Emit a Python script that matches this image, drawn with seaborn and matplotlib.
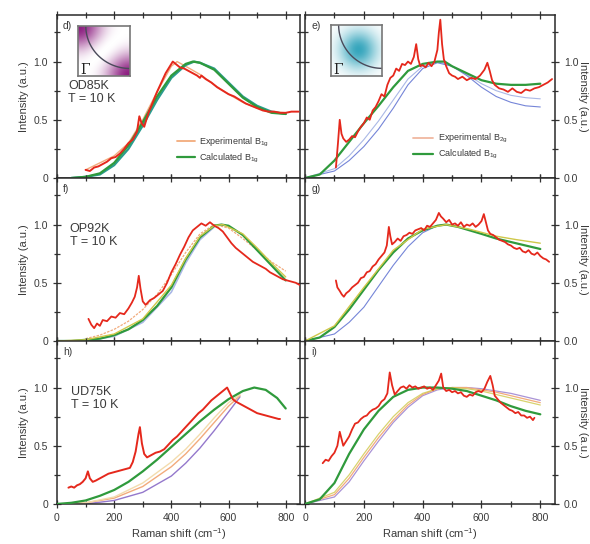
import matplotlib
matplotlib.use("Agg")
import matplotlib.pyplot as plt
import numpy as np
import seaborn as sns
from matplotlib.lines import Line2D
from matplotlib.ticker import MultipleLocator, FixedLocator, FixedFormatter

# ---- data: (Raman shift cm-1, intensity a.u.) ----
d_exp = [(100, 0.07), (115, 0.06), (130, 0.09), (145, 0.10), (160, 0.12), (175, 0.14), (190, 0.17),
         (205, 0.18), (220, 0.21), (235, 0.25), (250, 0.30), (265, 0.33), (280, 0.40), (288, 0.53),
         (296, 0.47), (305, 0.44), (320, 0.56), (335, 0.65), (350, 0.74), (365, 0.82), (380, 0.90),
         (395, 0.96), (405, 1.00), (415, 0.98), (430, 0.95), (445, 0.94), (460, 0.92), (475, 0.90),
         (490, 0.88), (500, 0.86), (505, 0.88), (520, 0.85), (540, 0.82), (560, 0.78), (580, 0.75),
         (600, 0.72), (620, 0.70), (640, 0.67), (660, 0.64), (680, 0.62), (700, 0.60), (720, 0.58),
         (740, 0.57), (760, 0.57), (780, 0.56), (800, 0.56), (820, 0.57), (845, 0.57)]
d_calc = [(50, 0.0), (100, 0.01), (150, 0.04), (200, 0.13), (250, 0.28), (300, 0.48), (350, 0.70),
          (400, 0.88), (450, 0.98), (475, 1.0), (500, 0.99), (550, 0.93), (600, 0.81), (650, 0.69),
          (700, 0.61), (750, 0.56), (800, 0.55)]
d_teal = [(50, 0.0), (100, 0.01), (150, 0.03), (200, 0.11), (250, 0.25), (300, 0.45), (350, 0.67),
          (400, 0.86), (450, 0.97), (480, 1.0), (500, 0.99), (550, 0.94), (600, 0.82), (650, 0.70),
          (700, 0.62), (750, 0.57), (800, 0.55)]
d_orange = [(100, 0.07), (200, 0.19), (250, 0.30), (300, 0.50), (350, 0.74), (400, 0.96), (420, 1.0),
            (450, 0.96), (500, 0.89), (550, 0.80), (600, 0.72), (650, 0.65), (700, 0.60), (750, 0.57),
            (800, 0.56)]

e_exp = [(105, 0.09), (112, 0.30), (118, 0.50), (124, 0.38), (130, 0.34), (140, 0.31), (150, 0.33),
         (160, 0.36), (170, 0.35), (180, 0.40), (190, 0.44), (200, 0.47), (210, 0.52), (220, 0.50),
         (230, 0.58), (240, 0.61), (250, 0.66), (260, 0.72), (270, 0.70), (280, 0.80), (290, 0.86),
         (300, 0.88), (310, 0.94), (320, 0.92), (330, 0.98), (340, 0.97), (350, 1.00), (360, 0.98),
         (370, 1.04), (378, 1.15), (385, 1.02), (392, 0.96), (400, 0.97), (410, 0.95), (420, 0.99),
         (430, 0.96), (440, 1.00), (450, 1.10), (455, 1.25), (460, 1.36), (466, 1.15), (472, 1.02),
         (480, 0.96), (490, 0.90), (500, 0.88), (510, 0.87), (520, 0.85), (535, 0.87), (550, 0.84),
         (565, 0.86), (580, 0.85), (595, 0.88), (610, 0.93), (620, 0.99), (628, 0.92), (636, 0.84),
         (645, 0.80), (660, 0.77), (675, 0.76), (690, 0.74), (705, 0.77), (720, 0.74), (735, 0.73),
         (750, 0.76), (765, 0.75), (780, 0.77), (795, 0.78), (810, 0.80), (825, 0.82), (840, 0.85)]
e_calc = [(0, 0.0), (50, 0.03), (100, 0.15), (150, 0.31), (200, 0.47), (250, 0.62), (300, 0.78),
          (350, 0.92), (400, 0.98), (450, 1.0), (475, 1.0), (500, 0.96), (550, 0.90), (600, 0.84),
          (650, 0.81), (700, 0.80), (750, 0.80), (800, 0.81)]
e_blue = [(0, 0.0), (100, 0.06), (150, 0.15), (200, 0.27), (250, 0.42), (300, 0.60), (350, 0.80),
          (400, 0.94), (450, 0.99), (500, 0.96), (550, 0.88), (600, 0.78), (650, 0.70), (700, 0.65),
          (750, 0.62), (800, 0.61)]
e_blue2 = [(0, 0.0), (100, 0.08), (150, 0.19), (200, 0.33), (250, 0.49), (300, 0.67), (350, 0.85),
           (400, 0.96), (450, 1.0), (500, 0.96), (550, 0.89), (600, 0.81), (650, 0.75), (700, 0.71),
           (750, 0.69), (800, 0.68)]

f_exp = [(110, 0.19), (120, 0.14), (130, 0.11), (140, 0.15), (150, 0.13), (160, 0.18), (175, 0.17),
         (190, 0.21), (205, 0.20), (220, 0.24), (235, 0.23), (250, 0.28), (262, 0.33), (272, 0.38),
         (280, 0.46), (286, 0.56), (292, 0.45), (300, 0.34), (310, 0.31), (325, 0.35), (340, 0.37),
         (355, 0.40), (370, 0.43), (385, 0.50), (400, 0.59), (415, 0.66), (430, 0.74), (445, 0.81),
         (460, 0.89), (475, 0.95), (490, 0.98), (505, 1.01), (520, 0.99), (535, 1.02), (550, 0.99),
         (565, 0.97), (580, 0.94), (595, 0.89), (610, 0.84), (625, 0.80), (640, 0.77), (655, 0.74),
         (670, 0.71), (685, 0.68), (700, 0.66), (715, 0.64), (730, 0.62), (745, 0.59), (760, 0.57),
         (775, 0.55), (790, 0.53), (805, 0.52), (820, 0.51), (835, 0.50), (850, 0.48)]
f_calc = [(0, 0.0), (50, 0.0), (100, 0.01), (150, 0.02), (200, 0.05), (250, 0.10), (300, 0.18),
          (350, 0.30), (400, 0.46), (450, 0.70), (500, 0.89), (550, 0.99), (575, 1.0), (600, 0.99),
          (650, 0.91), (700, 0.78), (750, 0.65), (800, 0.52)]
f_yellow = [(0, 0.0), (100, 0.01), (200, 0.06), (300, 0.19), (400, 0.48), (450, 0.71), (500, 0.90),
            (550, 0.99), (580, 1.0), (650, 0.92), (700, 0.80), (750, 0.67), (800, 0.55)]
f_orange = [(100, 0.02), (150, 0.05), (200, 0.10), (250, 0.17), (300, 0.27), (350, 0.40), (400, 0.57),
            (450, 0.76), (500, 0.92), (550, 1.0), (600, 0.97), (650, 0.88), (700, 0.78), (750, 0.68),
            (800, 0.60)]
f_blue = [(0, 0.0), (100, 0.0), (200, 0.04), (300, 0.16), (400, 0.42), (450, 0.67), (500, 0.87),
          (550, 0.98)]

g_exp = [(105, 0.52), (110, 0.46), (118, 0.43), (125, 0.40), (132, 0.38), (140, 0.41), (150, 0.43),
         (160, 0.46), (170, 0.48), (180, 0.50), (190, 0.54), (200, 0.55), (210, 0.59), (220, 0.60),
         (230, 0.64), (240, 0.66), (250, 0.70), (260, 0.73), (270, 0.76), (278, 0.82), (285, 0.98),
         (290, 0.90), (296, 0.83), (305, 0.85), (315, 0.88), (325, 0.86), (335, 0.90), (345, 0.91),
         (355, 0.93), (365, 0.92), (375, 0.95), (385, 0.96), (395, 0.97), (405, 0.95), (415, 0.99),
         (425, 0.98), (435, 1.01), (445, 1.04), (455, 1.10), (462, 1.07), (470, 1.05), (480, 1.02),
         (490, 1.04), (500, 1.00), (510, 1.01), (520, 0.99), (530, 1.02), (540, 0.98), (550, 1.00),
         (560, 0.99), (570, 1.01), (580, 0.98), (590, 1.00), (600, 1.03), (608, 1.09), (615, 1.02),
         (622, 0.95), (630, 0.92), (640, 0.91), (650, 0.89), (660, 0.87), (670, 0.86), (680, 0.85),
         (690, 0.83), (700, 0.82), (710, 0.80), (720, 0.79), (730, 0.80), (740, 0.77), (750, 0.76),
         (760, 0.78), (770, 0.75), (780, 0.74), (790, 0.76), (800, 0.73), (810, 0.71), (820, 0.70),
         (830, 0.68)]
g_calc = [(0, 0.0), (50, 0.03), (100, 0.12), (150, 0.27), (200, 0.44), (250, 0.61), (300, 0.76),
          (350, 0.88), (400, 0.95), (450, 0.99), (480, 1.0), (520, 0.98), (560, 0.95), (600, 0.92),
          (650, 0.88), (700, 0.85), (750, 0.82), (800, 0.79)]
g_yellow = [(0, 0.0), (100, 0.13), (200, 0.46), (300, 0.78), (400, 0.96), (480, 1.0), (560, 0.96),
            (650, 0.90), (720, 0.87), (800, 0.84)]
g_blue = [(0, 0.0), (100, 0.06), (150, 0.16), (200, 0.29), (250, 0.47), (300, 0.65), (350, 0.81),
          (400, 0.93), (450, 0.99), (480, 1.0)]

h_exp = [(40, 0.14), (50, 0.15), (60, 0.14), (70, 0.16), (80, 0.17), (90, 0.19), (100, 0.22),
         (108, 0.28), (115, 0.22), (125, 0.19), (135, 0.20), (150, 0.22), (165, 0.24), (180, 0.26),
         (195, 0.27), (210, 0.28), (225, 0.29), (240, 0.30), (255, 0.31), (265, 0.36), (275, 0.45),
         (285, 0.60), (290, 0.66), (297, 0.52), (305, 0.43), (315, 0.40), (330, 0.42), (345, 0.44),
         (360, 0.45), (375, 0.47), (390, 0.51), (405, 0.55), (420, 0.58), (435, 0.62), (450, 0.66),
         (465, 0.70), (480, 0.74), (495, 0.78), (510, 0.81), (525, 0.85), (540, 0.89), (555, 0.92),
         (570, 0.95), (585, 0.98), (595, 1.00), (605, 0.95), (615, 0.90), (625, 0.88), (640, 0.86),
         (655, 0.84), (670, 0.82), (685, 0.80), (700, 0.78), (715, 0.77), (730, 0.76), (745, 0.75),
         (760, 0.74), (775, 0.73), (780, 0.73)]
h_calc = [(0, 0.0), (50, 0.01), (100, 0.03), (150, 0.07), (200, 0.12), (250, 0.19), (300, 0.28),
          (350, 0.38), (400, 0.49), (450, 0.60), (500, 0.71), (550, 0.81), (600, 0.90), (650, 0.97),
          (690, 1.0), (730, 0.98), (770, 0.91), (800, 0.82)]
h_orange = [(0, 0.0), (100, 0.01), (200, 0.05), (300, 0.15), (400, 0.32), (450, 0.43), (500, 0.56),
            (550, 0.70), (600, 0.84), (640, 0.93)]
h_purple = [(0, 0.0), (100, 0.0), (200, 0.03), (300, 0.10), (400, 0.24), (450, 0.35), (500, 0.48),
            (550, 0.63), (600, 0.79), (640, 0.92)]
h_yellow = [(0, 0.0), (100, 0.01), (200, 0.06), (300, 0.18), (400, 0.36), (450, 0.47), (500, 0.60),
            (550, 0.74), (600, 0.87), (640, 0.94)]

i_exp = [(60, 0.35), (70, 0.38), (80, 0.37), (90, 0.41), (100, 0.44), (110, 0.50), (118, 0.62),
         (124, 0.56), (130, 0.50), (140, 0.54), (150, 0.58), (160, 0.64), (170, 0.69), (180, 0.70),
         (190, 0.73), (200, 0.75), (210, 0.76), (220, 0.79), (230, 0.81), (240, 0.82), (250, 0.84),
         (260, 0.88), (270, 0.90), (280, 0.95), (288, 1.13), (296, 1.02), (305, 0.94), (315, 0.97),
         (325, 1.00), (335, 1.01), (345, 0.99), (355, 1.02), (365, 1.00), (375, 1.01), (385, 0.99),
         (395, 1.00), (405, 1.01), (415, 0.99), (425, 1.00), (435, 0.98), (445, 1.02), (455, 1.06),
         (463, 1.12), (470, 1.00), (480, 0.97), (490, 0.98), (500, 0.96), (510, 0.97), (520, 0.95),
         (530, 0.96), (540, 0.93), (550, 0.92), (560, 0.94), (570, 0.93), (580, 0.96), (590, 0.97),
         (600, 0.96), (610, 0.99), (620, 1.05), (630, 1.10), (638, 1.02), (645, 0.93), (655, 0.90),
         (665, 0.87), (675, 0.85), (685, 0.83), (695, 0.81), (705, 0.80), (715, 0.78), (725, 0.79),
         (735, 0.76), (745, 0.76), (755, 0.74), (765, 0.75), (775, 0.72), (780, 0.74)]
i_calc = [(0, 0.0), (50, 0.04), (100, 0.18), (150, 0.43), (200, 0.64), (250, 0.80), (300, 0.92),
          (350, 0.98), (400, 1.0), (450, 1.0), (500, 0.99), (550, 0.97), (600, 0.93), (650, 0.89),
          (700, 0.84), (750, 0.80), (800, 0.77)]
i_yellow = [(0, 0.0), (100, 0.10), (150, 0.25), (200, 0.43), (250, 0.60), (300, 0.75), (350, 0.87),
            (400, 0.95), (450, 0.99), (500, 1.0), (550, 0.99), (600, 0.97), (650, 0.94), (700, 0.91),
            (750, 0.88), (800, 0.85)]
i_orange = [(0, 0.0), (100, 0.08), (150, 0.22), (200, 0.40), (250, 0.57), (300, 0.72), (350, 0.85),
            (400, 0.94), (450, 0.99), (500, 1.0), (550, 1.0), (600, 0.98), (650, 0.96), (700, 0.93),
            (750, 0.90), (800, 0.87)]
i_purple = [(0, 0.0), (100, 0.06), (150, 0.19), (200, 0.37), (250, 0.54), (300, 0.70), (350, 0.83),
            (400, 0.93), (450, 0.98), (500, 1.0), (550, 1.0), (600, 0.99), (650, 0.97), (700, 0.95),
            (750, 0.92), (800, 0.89)]

panel_letters = ["d)", "e)", "f)", "g)", "h)", "i)"]
sample_names = ["OD85K", "OP92K", "UD75K"]
x_ticks = [0, 200, 400, 600, 800]
y_ticks = [0, 0.5, 1.0]
left_ylabels = ["0", "0.5", "1.0"]
right_ylabels = ["0.0", "0.5", "1.0"]

RED = "#e5281c"
GREEN = "#2f9a3c"
TEAL = "#2a9c90"
BLUE = "#7585d8"
LBLUE = "#aab8e6"
ORANGE = "#f2ab7c"
YELLOW = "#cfc84a"
PURPLE = "#9478cc"
TXT = "#3a3a3a"

sns.set_theme(style="ticks")
plt.rcParams["font.family"] = ["Liberation Sans", "DejaVu Sans"]
plt.rcParams["mathtext.fontset"] = "custom"
plt.rcParams["mathtext.rm"] = "Liberation Sans"
plt.rcParams["mathtext.it"] = "Liberation Sans"


def draw(ax, pts, color, lw=1.0, z=2, ls="-", alpha=1.0):
    xs = [p[0] for p in pts]
    ys = [p[1] for p in pts]
    sns.lineplot(x=xs, y=ys, ax=ax, color=color, linewidth=lw, zorder=z,
                 linestyle=ls, alpha=alpha, sort=False, estimator=None)


fig = plt.figure(figsize=(5.9, 5.44), dpi=100)
top = 0.9724
ph = 0.2996
axes = []
for r in range(3):
    y0 = top - (r + 1) * ph
    axl = fig.add_axes([0.0966, y0, 0.4119, ph])
    axr = fig.add_axes([0.5170, y0, 0.4237, ph])
    axes.append((axl, axr))

# panel d / e
axd, axe = axes[0]
draw(axd, d_orange, ORANGE, 1.0, 2)
draw(axd, d_teal, TEAL, 1.6, 3)
draw(axd, d_calc, GREEN, 1.6, 4)
draw(axd, d_exp, RED, 1.4, 5)
draw(axe, e_blue2, LBLUE, 0.8, 2)
draw(axe, e_blue, BLUE, 0.8, 2)
draw(axe, e_calc, GREEN, 1.6, 4)
draw(axe, e_exp, RED, 1.3, 5)

# panel f / g
axf, axg = axes[1]
draw(axf, f_orange, ORANGE, 0.9, 2, ls=(0, (2, 1)))
draw(axf, f_blue, LBLUE, 1.2, 2)
draw(axf, f_calc, GREEN, 1.6, 3)
draw(axf, f_yellow, YELLOW, 1.0, 4)
draw(axf, f_exp, RED, 1.3, 5)
draw(axg, g_blue, BLUE, 0.8, 2)
draw(axg, g_calc, GREEN, 1.6, 3)
draw(axg, g_yellow, YELLOW, 1.0, 4)
draw(axg, g_exp, RED, 1.3, 5)

# panel h / i
axh, axi = axes[2]
draw(axh, h_purple, PURPLE, 1.0, 2)
draw(axh, h_orange, ORANGE, 1.0, 2)
draw(axh, h_yellow, "#f3dcae", 1.0, 2)
draw(axh, h_calc, GREEN, 1.6, 3)
draw(axh, h_exp, RED, 1.4, 5)
draw(axi, i_purple, PURPLE, 0.9, 2, alpha=0.8)
draw(axi, i_orange, ORANGE, 0.9, 2)
draw(axi, i_yellow, YELLOW, 0.9, 2, alpha=0.8)
draw(axi, i_calc, GREEN, 1.6, 3)
draw(axi, i_exp, RED, 1.3, 5)

for r, (axl, axr) in enumerate(axes):
    for c, ax in enumerate((axl, axr)):
        ax.set_xlim(0, 850)
        ax.set_ylim(0, 1.4)
        ax.set_xlabel("")
        ax.set_ylabel("")
        ax.xaxis.set_major_locator(FixedLocator(x_ticks))
        ax.xaxis.set_minor_locator(MultipleLocator(100))
        ax.yaxis.set_major_locator(FixedLocator(y_ticks))
        ax.yaxis.set_minor_locator(MultipleLocator(0.25))
        ax.tick_params(which="both", direction="inout", top=True, right=True,
                       bottom=True, left=True, colors="#333333", labelsize=7.5,
                       labelcolor=TXT, width=0.9)
        ax.tick_params(which="major", length=6)
        ax.tick_params(which="minor", length=4)
        for sp in ax.spines.values():
            sp.set_linewidth(1.1)
            sp.set_color("#2a2a2a")
        if r < 2:
            ax.tick_params(labelbottom=False)
        else:
            ax.set_xlabel("Raman shift (cm$^{-1}$)", fontsize=8, color=TXT, labelpad=2)
        if c == 0:
            ax.yaxis.set_major_formatter(FixedFormatter(left_ylabels))
            ax.set_ylabel("Intensity (a.u.)", fontsize=8, color=TXT, labelpad=3)
        else:
            ax.yaxis.set_major_formatter(FixedFormatter(right_ylabels))
            ax.tick_params(labelleft=False, labelright=True)
            ax.yaxis.set_label_position("right")
            ax.set_ylabel("Intensity (a.u.)", fontsize=8, color=TXT, rotation=270, labelpad=7)
        ax.text(0.025, 0.965, panel_letters[2 * r + c], transform=ax.transAxes,
                fontsize=7.5, color=TXT, va="top", ha="left")

# sample labels
axd.text(40, 0.84, sample_names[0] + "\nT = 10 K", fontsize=9, color=TXT, va="top", linespacing=1.05)
axf.text(45, 1.01, sample_names[1] + "\nT = 10 K", fontsize=9, color=TXT, va="top", linespacing=1.05)
axh.text(50, 1.01, sample_names[2] + "\nT = 10 K", fontsize=9, color=TXT, va="top", linespacing=1.05)

# legends
leg_d = [Line2D([], [], color=ORANGE, lw=1.3), Line2D([], [], color=GREEN, lw=1.6)]
axd.legend(leg_d, ["Experimental B$_{1g}$", "Calculated B$_{1g}$"], loc="upper left",
           bbox_to_anchor=(0.46, 0.31), frameon=False, fontsize=6.5, handlelength=2.0,
           handletextpad=0.5, labelspacing=0.3, labelcolor=TXT)
leg_e = [Line2D([], [], color="#f0b8a0", lw=1.3), Line2D([], [], color=GREEN, lw=1.6)]
axe.legend(leg_e, ["Experimental B$_{2g}$", "Calculated B$_{1g}$"], loc="upper left",
           bbox_to_anchor=(0.40, 0.33), frameon=False, fontsize=6.5, handlelength=2.2,
           handletextpad=0.5, labelspacing=0.3, labelcolor=TXT)

# Brillouin zone quadrant insets
k = np.linspace(0, np.pi, 120)
kx, ky = np.meshgrid(k, k)
b1g = (np.cos(kx) - np.cos(ky)) ** 2 / 4
b2g = np.exp(-((kx - 1.7) ** 2 + (ky - 1.6) ** 2) / 1.3)
ins_specs = [([0.1322, 0.8603, 0.0881, 0.0919], b1g, ["#ffffff", "#8c1d80"]),
             ([0.5610, 0.8603, 0.0864, 0.0938], b2g, ["#ffffff", "#37a6bd"])]
for pos, img, cols in ins_specs:
    ins = fig.add_axes(pos)
    cmap = matplotlib.colors.LinearSegmentedColormap.from_list("q", cols)
    ins.imshow(img, origin="lower", extent=(0, 1, 0, 1), cmap=cmap, vmin=0, vmax=1, aspect="auto")
    t = np.linspace(np.pi, 1.5 * np.pi, 60)
    ins.plot(1 + 0.85 * np.cos(t), 1 + 0.85 * np.sin(t), color="#4a4a5a", lw=1.0)
    ins.text(0.05, 0.03, "Γ", fontsize=10, color="#222222", family="DejaVu Serif")
    ins.set_xlim(0, 1)
    ins.set_ylim(0, 1)
    ins.set_xticks([])
    ins.set_yticks([])
    for sp in ins.spines.values():
        sp.set_color("#777777")
        sp.set_linewidth(1.2)

fig.savefig("out.png", dpi=100)
